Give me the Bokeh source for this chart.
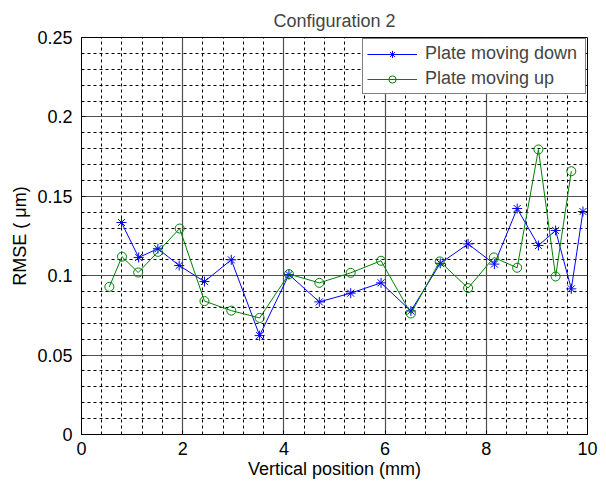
import numpy as np
from bokeh.plotting import figure
from bokeh.models import FixedTicker, Legend, LegendItem
from bokeh.embed import file_html
from bokeh.resources import INLINE

# ---- data ----
x_down = [0.79, 1.13, 1.51, 1.93, 2.43, 2.96, 3.52, 4.10, 4.70, 5.32,
          5.92, 6.51, 7.09, 7.64, 8.16, 8.61, 9.03, 9.37, 9.68, 9.91]
rmse_down = [0.1335, 0.1115, 0.117, 0.1064, 0.0963, 0.110, 0.0623, 0.1007, 0.0835, 0.089,
             0.0955, 0.0778, 0.1078, 0.120, 0.1073, 0.1423, 0.119, 0.1285, 0.0917, 0.1404]
x_up = [0.55, 0.80, 1.12, 1.51, 1.94, 2.43, 2.96, 3.52, 4.10, 4.70,
        5.32, 5.92, 6.51, 7.08, 7.64, 8.15, 8.61, 9.03, 9.37, 9.68]
rmse_up = [0.093, 0.112, 0.102, 0.115, 0.1297, 0.084, 0.078, 0.0734, 0.101, 0.0955,
           0.1018, 0.1094, 0.0762, 0.109, 0.0922, 0.1115, 0.105, 0.1795, 0.0995, 0.1658]

x_ticks = [0, 2, 4, 6, 8, 10]
x_tick_labels = ["0", "2", "4", "6", "8", "10"]
y_ticks = [0, 0.05, 0.1, 0.15, 0.2, 0.25]
y_tick_labels = ["0", "0.05", "0.1", "0.15", "0.2", "0.25"]

title_text = "Configuration 2"
x_label = "Vertical position (mm)"
y_label = "RMSE ( \u03bcm)"
series_names = ["Plate moving down", "Plate moving up"]

FONT = "Liberation Sans"
FS = "18px"

p = figure(width=598, height=484, x_range=(0, 10), y_range=(0, 0.25),
           output_backend="svg", toolbar_location=None,
           min_border_left=81, min_border_right=11, min_border_top=37, min_border_bottom=50)

p.title.text = title_text
p.title.align = "center"
p.title.text_font = FONT
p.title.text_font_size = FS
p.title.text_font_style = "normal"
p.title.standoff = 14

x_minor = [round(v, 4) for v in np.arange(0, 10.0001, 0.4) if abs(v / 2 - round(v / 2)) > 1e-6]
y_minor = [round(v, 4) for v in np.arange(0, 0.25001, 0.01) if abs(v / 0.05 - round(v / 0.05)) > 1e-6]

p.xaxis.ticker = FixedTicker(ticks=x_ticks, minor_ticks=x_minor)
p.yaxis.ticker = FixedTicker(ticks=y_ticks, minor_ticks=y_minor)
p.xaxis.major_label_overrides = {t: l for t, l in zip(x_ticks, x_tick_labels)}
p.yaxis.major_label_overrides = {t: l for t, l in zip(y_ticks, y_tick_labels)}

for ax in (p.xaxis, p.yaxis):
    ax.major_label_text_font = FONT
    ax.major_label_text_font_size = FS
    ax.major_label_text_color = "black"
    ax.axis_label_text_font = FONT
    ax.axis_label_text_font_size = FS
    ax.axis_label_text_font_style = "normal"
    ax.axis_label_text_color = "black"
    ax.axis_line_color = "black"
    ax.major_tick_in = 4
    ax.major_tick_out = 0
    ax.major_tick_line_color = "black"
    ax.minor_tick_line_color = None

p.xaxis.major_label_standoff = 3
p.yaxis.major_label_standoff = 5
p.xaxis.axis_label = x_label
p.yaxis.axis_label = y_label
p.xaxis.axis_label_standoff = 1
p.yaxis.axis_label_standoff = 4

p.grid.grid_line_color = "#505050"
p.grid.grid_line_width = 1.2
p.grid.minor_grid_line_color = "black"
p.grid.minor_grid_line_dash = "3 3"
p.grid.minor_grid_line_width = 1

p.outline_line_color = "black"
p.outline_line_width = 1
p.background_fill_color = "white"
p.border_fill_color = "white"

l1 = p.line(x_down, rmse_down, line_color="#0000ff", line_width=1)
m1 = p.scatter(x_down, rmse_down, marker="asterisk", size=10, line_color="#0000ff", line_width=1)
l2 = p.line(x_up, rmse_up, line_color="#008000", line_width=1)
m2 = p.scatter(x_up, rmse_up, marker="circle", size=9, line_color="#008000", fill_color=None, line_width=1)

legend = Legend(items=[LegendItem(label=series_names[0], renderers=[l1, m1]),
                       LegendItem(label=series_names[1], renderers=[l2, m2])],
                location="top_right")
legend.margin = 1
legend.padding = 4
legend.spacing = 4
legend.glyph_width = 50
legend.glyph_height = 18
legend.label_height = 18
legend.label_width = 156
legend.label_standoff = 8
legend.label_text_font = FONT
legend.label_text_font_size = FS
legend.label_text_baseline = "middle"
legend.border_line_color = "black"
legend.border_line_width = 1
legend.background_fill_color = "white"
legend.background_fill_alpha = 1
p.add_layout(legend, "center")

open("out.html", "w").write(file_html(p, INLINE))
